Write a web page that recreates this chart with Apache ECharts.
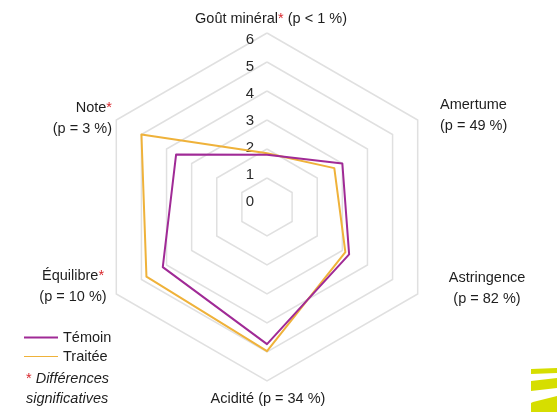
<!DOCTYPE html>
<html>
<head>
<meta charset="utf-8">
<script src="https://cdn.jsdelivr.net/npm/echarts@6/dist/echarts.min.js"></script>
<style>
  html, body { margin: 0; padding: 0; background: #fff; }
  #chart { width: 557px; height: 412px; }
</style>
</head>
<body>
<div id="chart"></div>
<script>
// Sensory profile: indicators listed counter-clockwise from the top
const indicators = ['Goût minéral', 'Note', 'Équilibre', 'Acidité', 'Astringence', 'Amertume'];
const temoin  = [1.8, 3.62, 4.15, 4.73, 3.27, 3.0];
const traitee = [1.85, 5.0, 4.8, 4.97, 3.12, 2.68];
const scaleTicks = ['0', '1', '2', '3', '4', '5', '6'];
const seriesNames = ['Témoin', 'Traitée'];
// Axis titles: {s|*} marks a significant difference
const axisTitles = [
  'Goût minéral{s|*} (p < 1 %)',
  'Note{s|*}\n(p = 3 %)',
  'Équilibre{s|*}\n(p = 10 %)',
  'Acidité (p = 34 %)',
  'Astringence\n(p = 82 %)',
  'Amertume\n(p = 49 %)'
];

const FONT = 'Liberation Sans, Arial, sans-serif';
const FS = 14.5;
const TEXT = '#1e1e1e';
const RED = '#d8262c';
const PURPLE = '#a02a96';
const GOLD = '#efb23a';
const CX = 267, CY = 207, R = 174;

// placement of each axis title around the hexagon
const titleLayout = [
  { x: 271, y: 8,   align: 'center' },
  { x: 112, y: 97,  align: 'right' },
  { x: 73,  y: 265, align: 'center' },
  { x: 268, y: 388, align: 'center' },
  { x: 487, y: 267, align: 'center' },
  { x: 440, y: 94,  align: 'left' }
];

const starStyle = { s: { fill: RED, fontSize: FS, fontFamily: FONT, lineHeight: 21 } };

const graphics = axisTitles.map((t, i) => ({
  type: 'text',
  x: titleLayout[i].x,
  y: titleLayout[i].y,
  style: {
    text: t,
    fill: TEXT,
    font: FS + 'px ' + FONT,
    align: titleLayout[i].align,
    verticalAlign: 'top',
    lineHeight: 21,
    rich: starStyle
  }
}));

// note under the legend
graphics.push({
  type: 'text', x: 26, y: 368,
  style: {
    text: '{s|*} Différences\nsignificatives',
    fill: TEXT, font: 'italic ' + FS + 'px ' + FONT, lineHeight: 20, verticalAlign: 'top',
    rich: starStyle
  }
});

// decorative stripes in the lower right corner
const LIME = '#d6de00';
graphics.push(
  { type: 'polygon', shape: { points: [[531, 369], [557, 368], [557, 373], [531, 374]] }, style: { fill: LIME } },
  { type: 'polygon', shape: { points: [[531, 381], [557, 378], [557, 388], [531, 391]] }, style: { fill: LIME } },
  { type: 'polygon', shape: { points: [[533, 402], [557, 396], [557, 412], [531, 412], [531, 403]] }, style: { fill: LIME } }
);

const chart = echarts.init(document.getElementById('chart'));
chart.setOption({
  backgroundColor: '#fff',
  animation: false,
  legend: [
    {
      data: [{ name: seriesNames[0], icon: 'rect', itemStyle: { color: PURPLE } }],
      left: 24, top: 330, padding: 0, orient: 'vertical',
      itemWidth: 34, itemHeight: 2,
      textStyle: { fontFamily: FONT, fontSize: FS, color: TEXT }
    },
    {
      data: [{ name: seriesNames[1], icon: 'rect', itemStyle: { color: GOLD } }],
      left: 24, top: 349, padding: 0, orient: 'vertical',
      itemWidth: 34, itemHeight: 1,
      textStyle: { fontFamily: FONT, fontSize: FS, color: TEXT }
    }
  ],
  radar: {
    center: [CX, CY],
    radius: R,
    startAngle: 90,
    shape: 'polygon',
    splitNumber: 6,
    indicator: indicators.map(n => ({ name: n, min: 0, max: 6 })),
    axisName: { show: false },
    axisLine: { show: false },
    splitArea: { show: false },
    splitLine: { lineStyle: { color: '#e0e0e0', width: 1.5 } }
  },
  // scale labels stacked along the upper axis
  polar: { center: [CX, 202], radius: 162 },
  angleAxis: { show: false, startAngle: 90, min: 0, max: 360 },
  radiusAxis: {
    type: 'category',
    data: scaleTicks,
    boundaryGap: false,
    axisLine: { show: false },
    axisTick: { show: false },
    splitLine: { show: false },
    axisLabel: { color: '#2a2a2a', fontFamily: FONT, fontSize: 15, margin: 13 }
  },
  graphic: graphics,
  series: [
    {
      type: 'radar',
      name: seriesNames[0],
      symbol: 'none',
      lineStyle: { color: PURPLE, width: 2 },
      itemStyle: { color: PURPLE },
      data: [{ value: temoin, name: seriesNames[0] }],
      z: 3
    },
    {
      type: 'radar',
      name: seriesNames[1],
      symbol: 'none',
      lineStyle: { color: GOLD, width: 2 },
      itemStyle: { color: GOLD },
      data: [{ value: traitee, name: seriesNames[1] }],
      z: 2
    }
  ]
});
</script>
</body>
</html>
